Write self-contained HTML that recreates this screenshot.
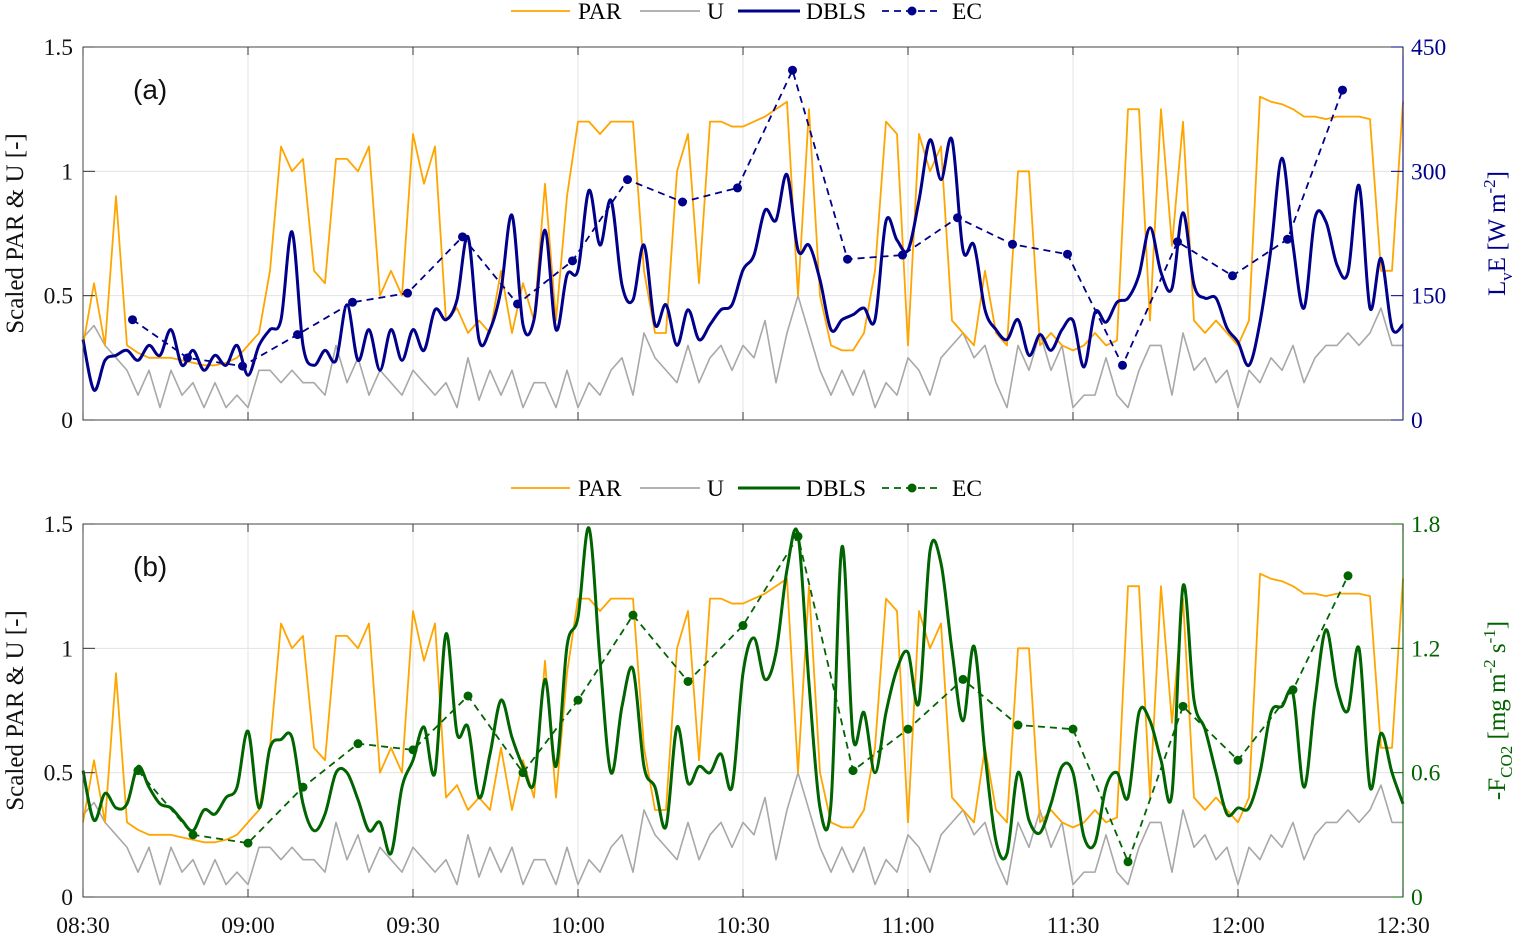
<!DOCTYPE html>
<html><head><meta charset="utf-8">
<style>
html,body{margin:0;padding:0;background:#fff;}
svg{display:block;font-family:"Liberation Serif",serif;}
</style></head>
<body>
<svg id="chart" width="1522" height="935" viewBox="0 0 1522 935" xmlns="http://www.w3.org/2000/svg"></svg>
<script>
// ---- data (minutes after 08:30, sampled every 2 min) ----
const xTickLabels = ["08:30","09:00","09:30","10:00","10:30","11:00","11:30","12:00","12:30"];
const leftTicks = [0,0.5,1,1.5];
const leftTickLabels = ["0","0.5","1","1.5"];
const rightTicksA = [0,150,300,450];
const rightTicksB = [0,0.6,1.2,1.8];
const rightTickLabelsB = ["0","0.6","1.2","1.8"];
const par = [0.3,0.55,0.3,0.9,0.3,0.27,0.25,0.25,0.25,0.24,
0.23,0.22,0.22,0.23,0.25,0.3,0.35,0.6,1.1,1.0,
1.05,0.6,0.55,1.05,1.05,1.0,1.1,0.5,0.6,0.5,
1.15,0.95,1.1,0.4,0.45,0.35,0.4,0.35,0.6,0.35,
0.55,0.4,0.95,0.4,0.9,1.2,1.2,1.15,1.2,1.2,
1.2,0.6,0.35,0.35,1.0,1.15,0.55,1.2,1.2,1.18,
1.18,1.2,1.22,1.25,1.28,0.5,1.25,0.5,0.3,0.28,
0.28,0.35,0.6,1.2,1.15,0.3,1.15,1.0,1.1,0.4,
0.35,0.3,0.6,0.35,0.3,1.0,1.0,0.3,0.35,0.3,
0.28,0.3,0.35,0.3,0.32,1.25,1.25,0.4,1.25,0.7,
1.2,0.4,0.35,0.4,0.35,0.3,0.4,1.3,1.28,1.27,
1.25,1.22,1.22,1.21,1.22,1.22,1.22,1.21,0.6,0.6,1.28];
const uWind = [0.33,0.38,0.3,0.25,0.2,0.1,0.2,0.05,0.2,0.1,
0.15,0.05,0.15,0.05,0.1,0.05,0.2,0.2,0.15,0.2,
0.15,0.15,0.1,0.3,0.15,0.25,0.1,0.2,0.15,0.1,
0.2,0.15,0.1,0.15,0.05,0.25,0.08,0.2,0.1,0.2,
0.05,0.15,0.15,0.05,0.2,0.05,0.15,0.1,0.2,0.25,
0.1,0.35,0.25,0.2,0.15,0.3,0.15,0.25,0.3,0.2,
0.3,0.25,0.4,0.15,0.35,0.5,0.35,0.2,0.1,0.2,
0.1,0.2,0.05,0.15,0.1,0.25,0.2,0.1,0.25,0.3,
0.35,0.25,0.3,0.15,0.05,0.3,0.2,0.35,0.2,0.3,
0.05,0.1,0.1,0.25,0.1,0.05,0.2,0.3,0.3,0.1,
0.35,0.2,0.25,0.15,0.2,0.05,0.2,0.15,0.25,0.2,
0.3,0.15,0.25,0.3,0.3,0.35,0.3,0.35,0.45,0.3,0.3];
const dblsA = [97,36,72,78,84,72,90,78,109,66,
84,60,78,66,90,54,90,109,121,227,
90,66,84,72,139,72,109,60,109,72,
109,84,133,121,145,221,97,109,157,247,
115,121,229,109,175,181,277,211,265,163,
145,211,115,139,90,133,97,115,133,139,
181,199,253,241,296,205,211,169,109,121,
127,135,121,240,217,205,265,338,290,338,
205,211,133,109,97,121,78,103,84,109,
120,64,130,118,142,147,175,232,178,159,
250,163,147,147,111,94,66,118,207,316,
211,135,244,239,187,178,283,135,195,111,115];
const dblsB = [0.61,0.37,0.50,0.43,0.45,0.63,0.53,0.45,0.43,0.37,
0.32,0.42,0.40,0.48,0.53,0.80,0.43,0.72,0.76,0.77,
0.45,0.32,0.40,0.60,0.60,0.47,0.32,0.36,0.21,0.53,
0.66,0.82,0.60,1.27,0.79,0.82,0.48,0.69,0.95,0.77,
0.63,0.55,1.05,0.63,1.21,1.35,1.78,1.14,0.60,0.92,
1.1,0.63,0.53,0.34,0.82,0.55,0.63,0.60,0.69,0.53,
1.08,1.25,1.05,1.18,1.58,1.75,1.03,0.43,0.45,1.69,
0.77,0.89,0.60,0.89,1.10,1.18,0.94,1.67,1.61,1.19,
0.85,1.21,0.69,0.27,0.21,0.60,0.37,0.31,0.45,0.63,
0.60,0.29,0.26,0.53,0.60,0.48,0.89,0.85,0.66,0.50,
1.50,0.95,0.81,0.60,0.40,0.43,0.43,0.60,0.89,0.92,
0.98,0.53,0.95,1.29,1.01,0.90,1.20,0.53,0.79,0.60,0.45];
const ecTimesA = [9,19,29,39,49,59,69,79,89,99,109,119,129,139,149,159,169,179,189,199,209,219,229];
const ecA = [121,75,65,103,142,153,221,140,192,290,263,280,422,194,199,244,212,200,66,215,174,218,398];
const ecTimesB = [10,20,30,40,50,60,70,80,90,100,110,120,130,140,150,160,170,180,190,200,210,220,230];
const ecB = [0.61,0.30,0.26,0.53,0.74,0.71,0.97,0.60,0.95,1.36,1.04,1.31,1.74,0.61,0.81,1.05,0.83,0.81,0.17,0.92,0.66,1.00,1.55];

const NS="http://www.w3.org/2000/svg";
const svg=document.getElementById('chart');
const X0=83,X1=1403;
const xs=t=>X0+(X1-X0)*t/240;
function mk(tag,attrs,parent){const e=document.createElementNS(NS,tag);for(const k in attrs)e.setAttribute(k,attrs[k]);(parent||svg).appendChild(e);return e;}
function txt(s,attrs,parent){const e=mk('text',attrs,parent);e.textContent=s;return e;}
function smoothPath(pts){
  let d='M'+pts[0][0]+','+pts[0][1];
  for(let i=0;i<pts.length-1;i++){
    const p0=pts[i-1]||pts[i],p1=pts[i],p2=pts[i+1],p3=pts[i+2]||p2;
    const c1x=p1[0]+(p2[0]-p0[0])/6,c1y=p1[1]+(p2[1]-p0[1])/6;
    const c2x=p2[0]-(p3[0]-p1[0])/6,c2y=p2[1]-(p3[1]-p1[1])/6;
    d+=`C${c1x},${c1y} ${c2x},${c2y} ${p2[0]},${p2[1]}`;
  }
  return d;
}

const NAVY="#00008B",GREEN="#006400",ORANGE="#FFA500",GREY="#A8A8A8";
const FS=23.5;

function panel(cfg){
  const g=mk('g',{});
  
  
  const T=cfg.top,B=cfg.bot;
  const yl=v=>B-(B-T)*v/1.5;
  const yr=v=>B-(B-T)*v/cfg.rmax;
  for(let i=0;i<=8;i++){const x=xs(i*30);const l=mk('line',{x1:x,x2:x,y1:T,y2:B,stroke:"#e3e3e3","stroke-width":1},g);
    }
  leftTicks.forEach(v=>{const l=mk('line',{x1:X0,x2:X1,y1:yl(v),y2:yl(v),stroke:"#e3e3e3","stroke-width":1},g);
    });
  const n=par.length;const tt=i=>i*240/(n-1);
  const pl=(arr,yf,color,w,nm)=>{const p=mk('polyline',{points:arr.map((v,i)=>xs(tt(i))+','+yf(v)).join(' '),fill:'none',stroke:color,'stroke-width':w,'stroke-linejoin':'round'},g);
    };
  pl(uWind,yl,GREY,1.6,'u-line');
  pl(par,yl,ORANGE,1.8,'par-line');
  const dp=mk('path',{d:smoothPath(cfg.dbls.map((v,i)=>[xs(tt(i)),yr(v)])),fill:'none',stroke:cfg.color,'stroke-width':3,'stroke-linejoin':'round'},g);
  
  const ep=mk('polyline',{points:cfg.ecT.map((t,i)=>xs(t)+','+yr(cfg.ec[i])).join(' '),fill:'none',stroke:cfg.color,'stroke-width':1.8,'stroke-dasharray':'7 5'},g);
  
  cfg.ecT.forEach((t,i)=>{const c=mk('circle',{cx:xs(t),cy:yr(cfg.ec[i]),r:4.5,fill:cfg.color},g);
    });
  mk('rect',{x:X0,y:T,width:X1-X0,height:B-T,fill:'none',stroke:'#444','stroke-width':1},g);
  mk('line',{x1:X1,x2:X1,y1:T,y2:B,stroke:cfg.color,'stroke-width':1.2,opacity:0.7},g);
  for(let i=0;i<=8;i++){const x=xs(i*30);mk('line',{x1:x,x2:x,y1:B,y2:B-8,stroke:'#333'},g);mk('line',{x1:x,x2:x,y1:T,y2:T+8,stroke:'#333'},g);}
  leftTicks.forEach((v,i)=>{mk('line',{x1:X0,x2:X0+12,y1:yl(v),y2:yl(v),stroke:'#333'},g);
    const t=txt(leftTickLabels[i],{x:X0-10,y:yl(v)+8,'font-size':FS,'text-anchor':'end',fill:'#111'},g);
    });
  cfg.rticks.forEach((v,i)=>{mk('line',{x1:X1-12,x2:X1,y1:yr(v),y2:yr(v),stroke:cfg.color},g);
    const t=txt(cfg.rlabels[i],{x:X1+8,y:yr(v)+8,'font-size':FS,fill:cfg.color},g);
    });
  const pt=txt(cfg.letter,{x:133,y:T+52,'font-size':28,'font-family':'"Liberation Sans",sans-serif',fill:'#111'},g);
  
  const ylab=txt('Scaled PAR & U [-]',{x:0,y:0,'font-size':25,'text-anchor':'middle',transform:`translate(23,${(T+B)/2}) rotate(-90)`,fill:'#111'},g);
  
  const rl=mk('text',{x:0,y:0,'font-size':25,'text-anchor':'middle',transform:`translate(1505,${(T+B)/2}) rotate(-90)`,fill:cfg.color},g);
  
  rl.innerHTML=cfg.rtitle;
  const ly=cfg.legY;
  const lg=mk('g',{},g);
  mk('line',{x1:511,x2:570,y1:ly,y2:ly,stroke:ORANGE,'stroke-width':1.8},lg);txt('PAR',{x:578,y:ly+8,'font-size':FS},lg);
  mk('line',{x1:640,x2:700,y1:ly,y2:ly,stroke:GREY,'stroke-width':1.8},lg);txt('U',{x:707,y:ly+8,'font-size':FS},lg);
  mk('line',{x1:738,x2:800,y1:ly,y2:ly,stroke:cfg.color,'stroke-width':3},lg);txt('DBLS',{x:806,y:ly+8,'font-size':FS},lg);
  mk('line',{x1:882,x2:942,y1:ly,y2:ly,stroke:cfg.color,'stroke-width':1.8,'stroke-dasharray':'7 5'},lg);
  mk('circle',{cx:912,cy:ly,r:4.5,fill:cfg.color},lg);txt('EC',{x:952,y:ly+8,'font-size':FS},lg);
}
panel({name:'panel-a',top:47,bot:420,rmax:450,color:NAVY,dbls:dblsA,ec:ecA,ecT:ecTimesA,rticks:rightTicksA,rlabels:rightTicksA.map(String),letter:'(a)',legY:11,
  rtitle:'L<tspan font-size="17" dy="7">v</tspan><tspan dy="-7">E [W m</tspan><tspan font-size="17" dy="-10">-2</tspan><tspan dy="10">]</tspan>'});
panel({name:'panel-b',top:524,bot:897,rmax:1.8,color:GREEN,dbls:dblsB,ec:ecB,ecT:ecTimesB,rticks:rightTicksB,rlabels:rightTickLabelsB,letter:'(b)',legY:488,
  rtitle:'-F<tspan font-size="17" dy="7">CO2</tspan><tspan dy="-7"> [mg m</tspan><tspan font-size="17" dy="-10">-2</tspan><tspan dy="10"> s</tspan><tspan font-size="17" dy="-10">-1</tspan><tspan dy="10">]</tspan>'});
xTickLabels.forEach((s,i)=>{const t=txt(s,{x:xs(i*30),y:933,'font-size':FS,'text-anchor':'middle',fill:'#111'});
  });
</script>
</body></html>
